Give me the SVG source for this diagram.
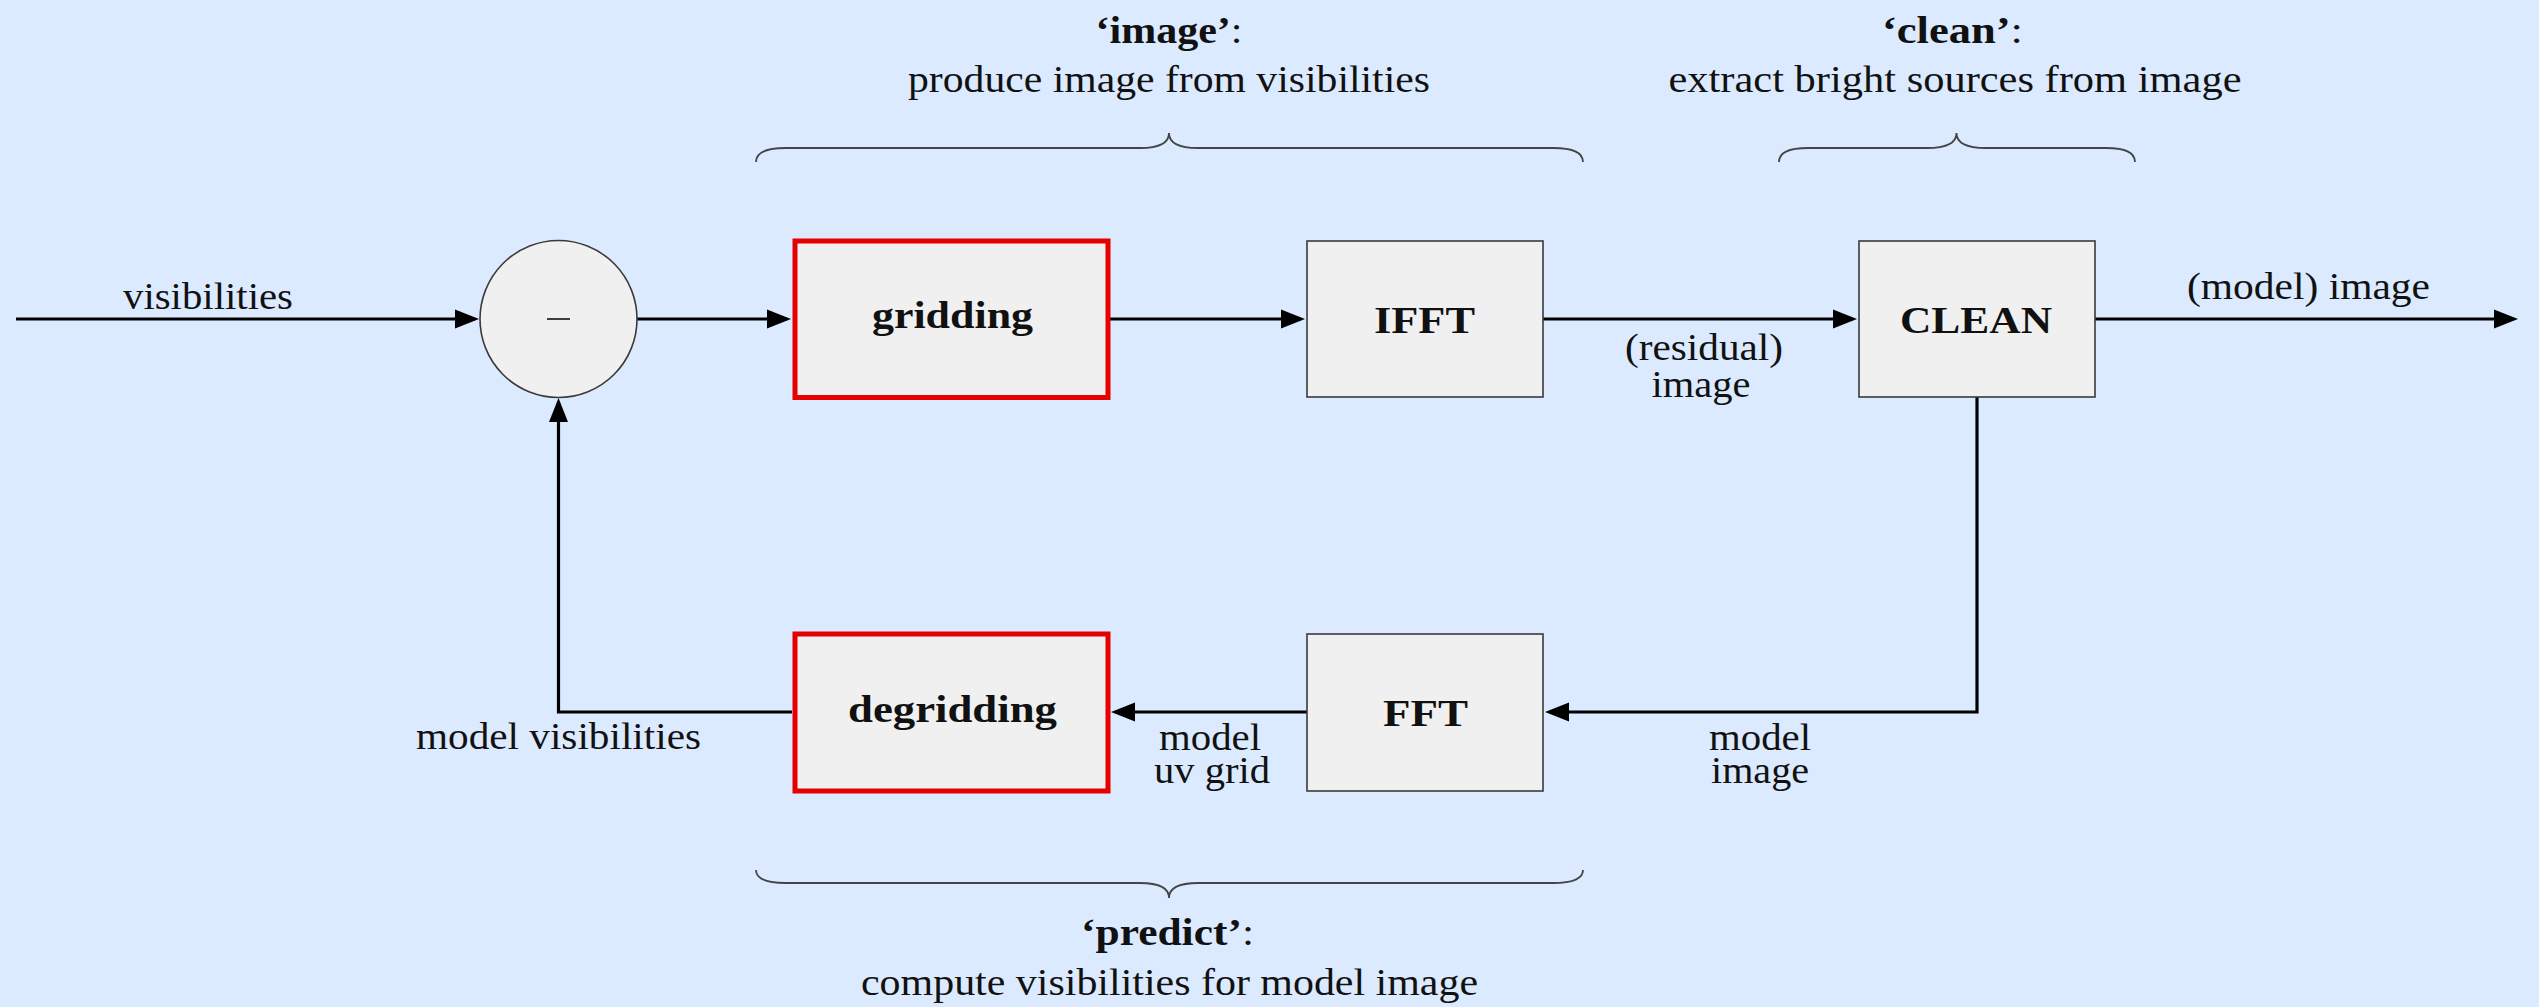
<svg xmlns="http://www.w3.org/2000/svg" width="2539" height="1007" viewBox="0 0 2539 1007">
<style>
text{font-family:"Liberation Serif","Times New Roman",serif;font-size:38px;fill:#111;text-anchor:middle}
.b{font-weight:bold}
.box{fill:#f0f0f0;stroke:#3a3a3a;stroke-width:1.6}
.red{fill:#f0f0f0;stroke:#e60000;stroke-width:5}
.conn{fill:none;stroke:#000;stroke-width:3.2;marker-end:url(#arr)}
.brace{fill:none;stroke:#444;stroke-width:1.8}
</style>
<defs>
<marker id="arr" markerUnits="userSpaceOnUse" markerWidth="24" markerHeight="19" refX="20" refY="9.5" orient="auto" overflow="visible">
<path d="M0,0 L24,9.5 L0,19 z" fill="#000"/>
</marker>
</defs>
<rect x="0" y="0" width="2539" height="1007" fill="#dbeafe"/>

<g id="connectors">
<path class="conn" d="M16,319 H475"/>
<path class="conn" d="M637,319 H787"/>
<path class="conn" d="M1110,319 H1301"/>
<path class="conn" d="M1543,319 H1853"/>
<path class="conn" d="M2095,319 H2514"/>
<path class="conn" d="M1977,397 V712 H1549"/>
<path class="conn" d="M1307,712 H1115"/>
<path class="conn" d="M792,712 H558.5 V402"/>
</g>

<g id="labels">
<text x="208" y="309" textLength="170" lengthAdjust="spacingAndGlyphs">visibilities</text>
<text x="2308.5" y="299" textLength="243" lengthAdjust="spacingAndGlyphs">(model) image</text>
<text x="1704" y="360" textLength="158" lengthAdjust="spacingAndGlyphs">(residual)</text>
<text x="1701" y="397" textLength="99" lengthAdjust="spacingAndGlyphs">image</text>
<text x="558.5" y="749" textLength="285" lengthAdjust="spacingAndGlyphs">model visibilities</text>
<text x="1210" y="750" textLength="102" lengthAdjust="spacingAndGlyphs">model</text>
<text x="1212" y="783" textLength="116" lengthAdjust="spacingAndGlyphs">uv grid</text>
<text x="1760" y="750" textLength="102" lengthAdjust="spacingAndGlyphs">model</text>
<text x="1760" y="783" textLength="98" lengthAdjust="spacingAndGlyphs">image</text>
</g>

<g id="sum">
<circle cx="558.5" cy="319" r="78.5" class="box"/>
<line x1="547" y1="319" x2="570" y2="319" stroke="#111" stroke-width="1.6"/>
</g>

<g id="gridding">
<rect x="795" y="241" width="313" height="156.5" class="red"/>
<text class="b" x="952.5" y="328" textLength="161" lengthAdjust="spacingAndGlyphs">gridding</text>
</g>

<g id="ifft">
<rect x="1307" y="241" width="236" height="156" class="box"/>
<text class="b" x="1424.5" y="333" textLength="101" lengthAdjust="spacingAndGlyphs">IFFT</text>
</g>

<g id="clean">
<rect x="1859" y="241" width="236" height="156" class="box"/>
<text class="b" x="1976" y="333" textLength="152" lengthAdjust="spacingAndGlyphs">CLEAN</text>
</g>

<g id="degridding">
<rect x="795" y="634" width="313" height="157" class="red"/>
<text class="b" x="952.5" y="722" textLength="209" lengthAdjust="spacingAndGlyphs">degridding</text>
</g>

<g id="fft">
<rect x="1307" y="634" width="236" height="157" class="box"/>
<text class="b" x="1425.5" y="726" textLength="85" lengthAdjust="spacingAndGlyphs">FFT</text>
</g>

<g id="image-group">
<path class="brace" d="M756,162 Q756,148 786,148 L1140,148 Q1169,148 1169,133 Q1169,148 1198,148 L1553,148 Q1583,148 1583,162"/>
<text x="1169" y="43" textLength="147" lengthAdjust="spacingAndGlyphs"><tspan class="b">‘image’</tspan>:</text>
<text x="1169" y="92" textLength="522" lengthAdjust="spacingAndGlyphs">produce image from visibilities</text>
</g>

<g id="clean-group">
<path class="brace" d="M1779,162 Q1779,148 1808,148 L1927,148 Q1956.5,148 1956.5,133 Q1956.5,148 1986,148 L2106,148 Q2135,148 2135,162"/>
<text x="1952.5" y="43" textLength="141" lengthAdjust="spacingAndGlyphs"><tspan class="b">‘clean’</tspan>:</text>
<text x="1955" y="92" textLength="573" lengthAdjust="spacingAndGlyphs">extract bright sources from image</text>
</g>

<g id="predict-group">
<path class="brace" d="M756,870 Q756,883 786,883 L1140,883 Q1169,883 1169,898 Q1169,883 1198,883 L1553,883 Q1583,883 1583,870"/>
<text x="1167.5" y="945" textLength="173" lengthAdjust="spacingAndGlyphs"><tspan class="b">‘predict’</tspan>:</text>
<text x="1169.5" y="995" textLength="617" lengthAdjust="spacingAndGlyphs">compute visibilities for model image</text>
</g>
</svg>
